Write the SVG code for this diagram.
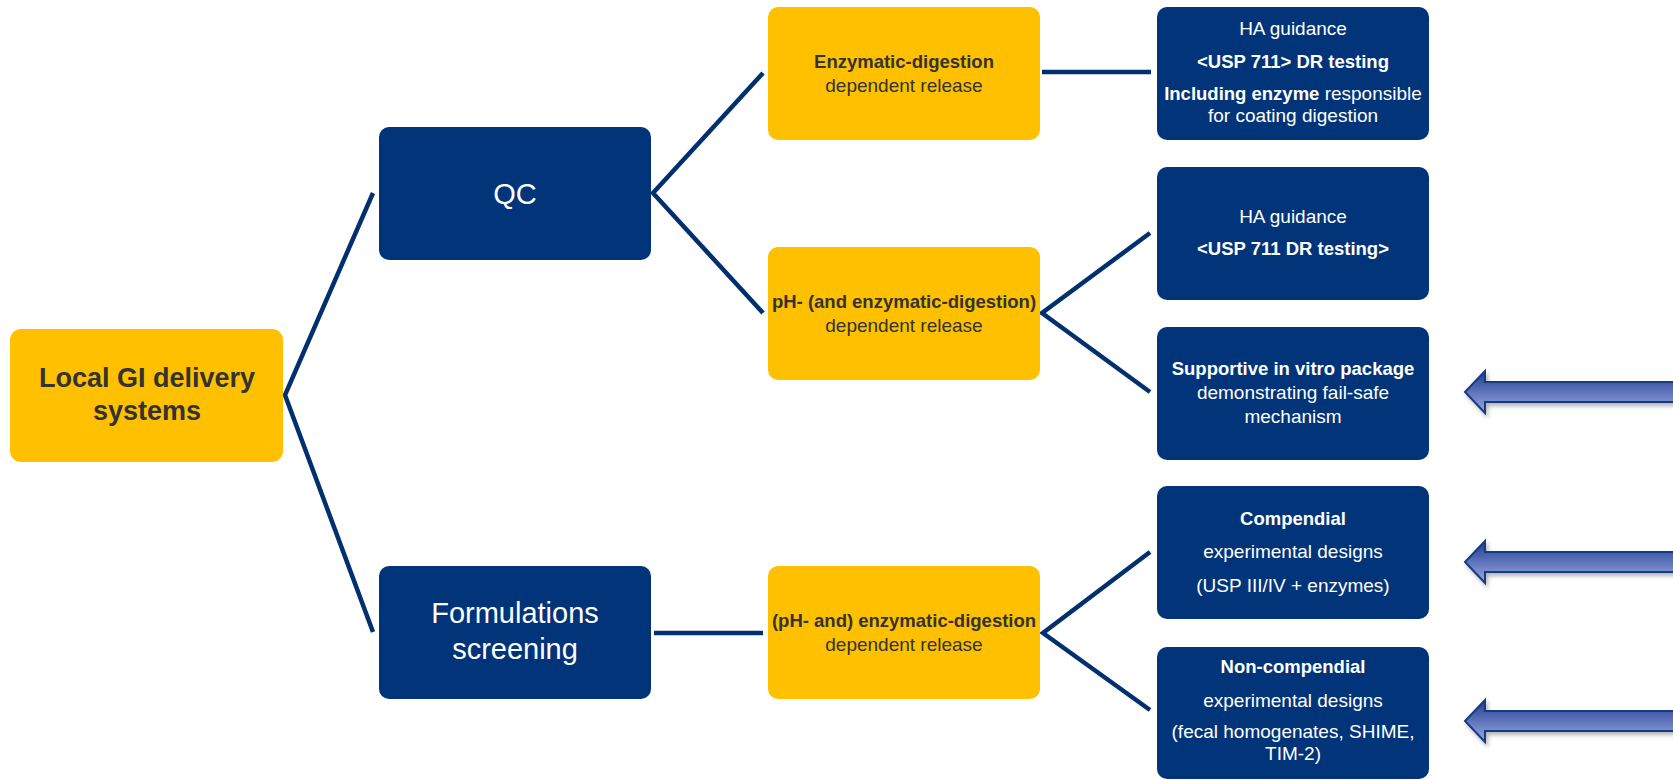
<svg xmlns="http://www.w3.org/2000/svg" width="1673" height="780" viewBox="0 0 1673 780">
  <style>
    .dark { fill: #023479; }
    .yel { fill: #FFC000; }
    .wt { font-family: "Liberation Sans", Arial, sans-serif; fill: #ffffff; text-anchor: middle; }
    .yt { font-family: "Liberation Sans", Arial, sans-serif; fill: #333333; text-anchor: middle; }
    .s { font-size: 19px; }
    .b { font-weight: bold; font-size: 18.5px; }
    .big { font-size: 29px; }
    .conn { stroke: #02306f; stroke-width: 4.5; fill: none; }
    .arrow { fill: url(#ag); stroke: #173a85; stroke-width: 2; filter: url(#sh); }
  </style>
  <defs>
    <linearGradient id="ag" x1="0" y1="0" x2="0" y2="1">
      <stop offset="0" stop-color="#1f3c8a"/>
      <stop offset="0.5" stop-color="#5f74bd"/>
      <stop offset="1" stop-color="#9aaadc"/>
    </linearGradient>
    <filter id="sh" x="-10%" y="-50%" width="130%" height="220%">
      <feDropShadow dx="2" dy="3" stdDeviation="2" flood-color="#000" flood-opacity="0.3"/>
    </filter>
  </defs>
  <rect width="1673" height="780" fill="#ffffff"/>

  <g id="connectors">
    <polyline class="conn" points="373,193 285,395 373,632"/>
    <polyline class="conn" points="763,73 653,193 763,313"/>
    <line class="conn" x1="1042" y1="72" x2="1151" y2="72"/>
    <polyline class="conn" points="1150,233 1042,313 1150,392"/>
    <line class="conn" x1="654" y1="633" x2="763" y2="633"/>
    <polyline class="conn" points="1150,552 1043,633 1150,710"/>
  </g>

  <g id="root">
    <rect class="yel" x="10" y="329" width="273" height="133" rx="11"/>
    <text class="yt" x="147" y="387" font-size="27" font-weight="bold">Local GI delivery</text>
    <text class="yt" x="147" y="420" font-size="27" font-weight="bold">systems</text>
  </g>

  <g id="qc">
    <rect class="dark" x="379" y="127" width="272" height="133" rx="10"/>
    <text class="wt big" x="515" y="204">QC</text>
  </g>

  <g id="formulations">
    <rect class="dark" x="379" y="566" width="272" height="133" rx="10"/>
    <text class="wt big" x="515" y="623">Formulations</text>
    <text class="wt big" x="515" y="659">screening</text>
  </g>

  <g id="enzymatic">
    <rect class="yel" x="768" y="7" width="272" height="133" rx="10"/>
    <text class="yt b" x="904" y="68">Enzymatic-digestion</text>
    <text class="yt s" x="904" y="92">dependent release</text>
  </g>

  <g id="ph-enzymatic">
    <rect class="yel" x="768" y="247" width="272" height="133" rx="10"/>
    <text class="yt b" x="904" y="308">pH- (and enzymatic-digestion)</text>
    <text class="yt s" x="904" y="332">dependent release</text>
  </g>

  <g id="ph-and-enzymatic">
    <rect class="yel" x="768" y="566" width="272" height="133" rx="10"/>
    <text class="yt b" x="904" y="627">(pH- and) enzymatic-digestion</text>
    <text class="yt s" x="904" y="651">dependent release</text>
  </g>

  <g id="ha1">
    <rect class="dark" x="1157" y="7" width="272" height="133" rx="10"/>
    <text class="wt s" x="1293" y="35">HA guidance</text>
    <text class="wt b" x="1293" y="68">&lt;USP 711&gt; DR testing</text>
    <text class="wt s" x="1293" y="100"><tspan font-weight="bold" font-size="18.5">Including enzyme</tspan> responsible</text>
    <text class="wt s" x="1293" y="122">for coating digestion</text>
  </g>

  <g id="ha2">
    <rect class="dark" x="1157" y="167" width="272" height="133" rx="10"/>
    <text class="wt s" x="1293" y="223">HA guidance</text>
    <text class="wt b" x="1293" y="255">&lt;USP 711 DR testing&gt;</text>
  </g>

  <g id="supportive">
    <rect class="dark" x="1157" y="327" width="272" height="133" rx="10"/>
    <text class="wt b" x="1293" y="375">Supportive in vitro package</text>
    <text class="wt s" x="1293" y="399">demonstrating fail-safe</text>
    <text class="wt s" x="1293" y="423">mechanism</text>
  </g>

  <g id="compendial">
    <rect class="dark" x="1157" y="486" width="272" height="133" rx="10"/>
    <text class="wt b" x="1293" y="525">Compendial</text>
    <text class="wt s" x="1293" y="558">experimental designs</text>
    <text class="wt s" x="1293" y="592">(USP III/IV + enzymes)</text>
  </g>

  <g id="non-compendial">
    <rect class="dark" x="1157" y="647" width="272" height="132" rx="10"/>
    <text class="wt b" x="1293" y="673">Non-compendial</text>
    <text class="wt s" x="1293" y="707">experimental designs</text>
    <text class="wt s" x="1293" y="738">(fecal homogenates, SHIME,</text>
    <text class="wt s" x="1293" y="760">TIM-2)</text>
  </g>

  <g id="arrows">
    <path class="arrow" d="M1465,392 L1485,371 L1485,382 L1690,382 L1690,402 L1485,402 L1485,413 Z"/>
    <path class="arrow" d="M1465,562 L1485,541 L1485,552 L1690,552 L1690,572 L1485,572 L1485,583 Z"/>
    <path class="arrow" d="M1465,721 L1485,700 L1485,711 L1690,711 L1690,731 L1485,731 L1485,742 Z"/>
  </g>
</svg>
